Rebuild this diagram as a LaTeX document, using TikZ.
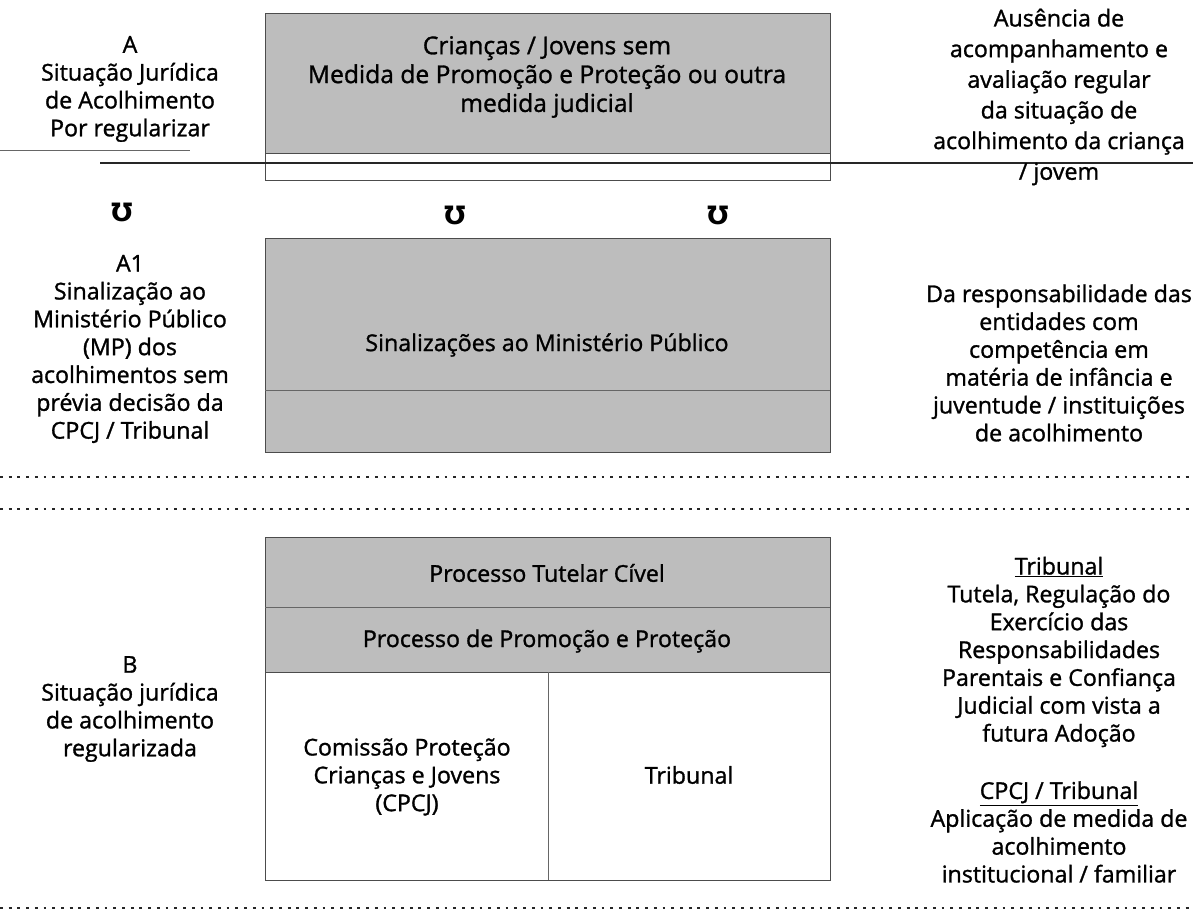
\documentclass[tikz,border=0pt]{standalone}
\usepackage{fontspec}
\setmainfont{Open Sans}[FakeBold=1.2]
\newfontfamily\symfont{DejaVu Sans}

\begin{document}
\begin{tikzpicture}[x=0.025cm,y=-0.025cm,
  txt/.style={align=center,inner sep=0pt,font=\fontsize{16.5}{19.8}\selectfont},
  shadebox/.style={fill=black!26,draw=black!70,line width=0.5pt},
  whitebox/.style={draw=black!70,line width=0.5pt},
  divider/.style={draw=black!60,line width=0.5pt},
  dotline/.style={draw=black!85,line width=2pt,dash pattern=on 2pt off 4.2pt},
  downmark/.style={inner sep=0pt,font=\symfont\bfseries\fontsize{18}{18}\selectfont}]
\useasboundingbox (0,0) rectangle (1193,920);

% row A
\fill[shadebox] (265,13) rectangle (830,153);
\draw[whitebox] (265,13) rectangle (830,180);
\draw[divider] (0,150) -- (190,150);
\draw[black!85,line width=0.8pt] (100,163) -- (1193,163);
\node[txt] (sitA) at (130,89) {A\\Situação Jurídica\\de Acolhimento\\Por regularizar};
\node[txt,font=\fontsize{17.5}{20.5}\selectfont] (semMedida) at (547,77) {Crianças / Jovens sem\\Medida de Promoção e Proteção ou outra\\medida judicial};
\node[txt,font=\fontsize{16.5}{21.8}\selectfont] (ausencia) at (1059,97) {Ausência de\\acompanhamento e\\avaliação regular\\da situação de\\acolhimento da criança\\/ jovem};

\node[downmark] (mk1) at (122,212) {Ʊ};
\node[downmark] (mk2) at (455,215) {Ʊ};
\node[downmark] (mk3) at (718,215) {Ʊ};

% row A1
\fill[shadebox] (265,238) rectangle (830,452);
\draw[divider] (265,390) -- (830,390);
\node[txt] (sitA1) at (130,349) {A1\\Sinalização ao\\Ministério Público\\(MP) dos\\acolhimentos sem\\prévia decisão da\\CPCJ / Tribunal};
\node[txt] (sinalMP) at (547,345) {Sinalizações ao Ministério Público};
\node[txt] (respons) at (1059,363) {Da responsabilidade das\\entidades com\\competência em\\matéria de infância e\\juventude / instituições\\de acolhimento};

\draw[dotline] (0,477) -- (1193,477);
\draw[dotline] (0,509) -- (1193,509);

% row B
\fill[shadebox] (265,537) rectangle (830,672);
\draw[whitebox] (265,537) rectangle (830,880);
\draw[divider] (265,607) -- (830,607);
\draw[divider] (548,672) -- (548,880);
\node[txt] (sitB) at (130,709) {B\\Situação jurídica\\de acolhimento\\regularizada};
\node[txt] (tutelar) at (547,573) {Processo Tutelar Cível};
\node[txt] (promocao) at (547,641) {Processo de Promoção e Proteção};
\node[txt] (cpcj) at (407,777) {Comissão Proteção\\Crianças e Jovens\\(CPCJ)};
\node[txt] (tribunal) at (689,775) {Tribunal};
\node[txt] (tribTxt) at (1059,652) {\underline{Tribunal}\\Tutela, Regulação do\\Exercício das\\Responsabilidades\\Parentais e Confiança\\Judicial com vista a\\futura Adoção};
\node[txt] (cpcjTxt) at (1059,832) {\underline{CPCJ / Tribunal}\\Aplicação de medida de\\acolhimento\\institucional / familiar};

\draw[dotline] (0,908) -- (1193,908);
\end{tikzpicture}
\end{document}
